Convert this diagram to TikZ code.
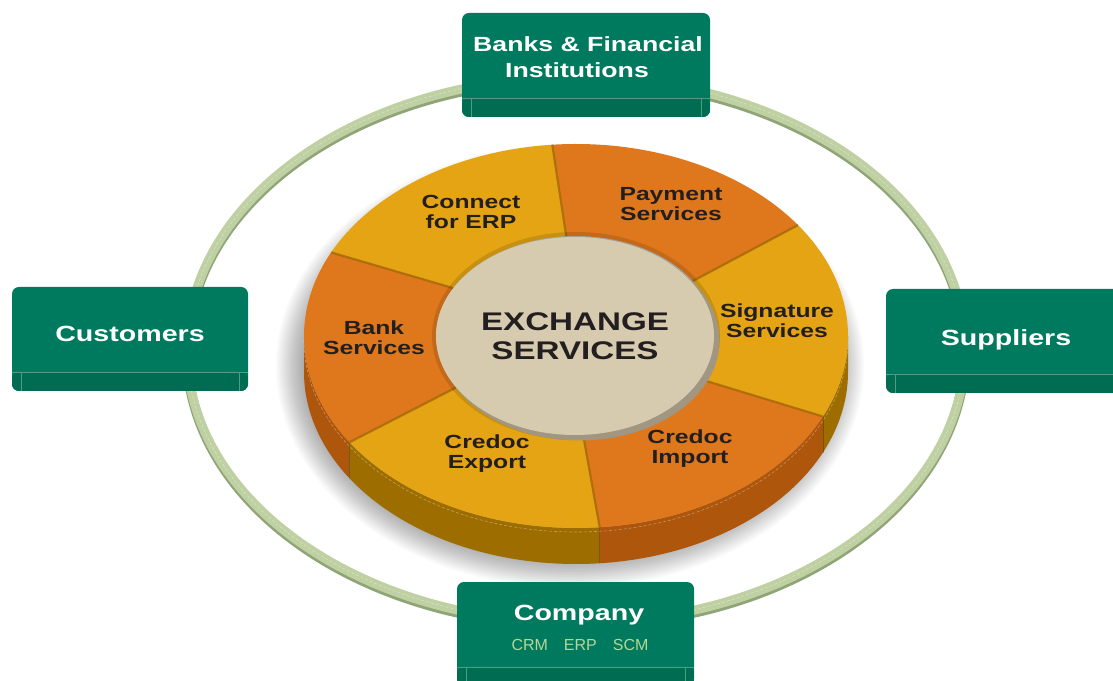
\documentclass[tikz,border=0pt]{standalone}
\usepackage{fontspec}
\setmainfont{Liberation Sans}
\newfontfamily\wide[FakeStretch=1.3]{Liberation Sans}
\usetikzlibrary{calc,shapes.geometric}
\definecolor{gface}{HTML}{007A5E}
\definecolor{gband}{HTML}{006C51}
\definecolor{gline}{HTML}{4E9C82}
\definecolor{ringdark}{HTML}{8FA577}
\definecolor{ringmid}{HTML}{BFD0A2}
\definecolor{ringlight}{HTML}{E6EEDA}
\definecolor{ytop}{HTML}{E4A414}
\definecolor{otop}{HTML}{DF781C}
\definecolor{yside}{HTML}{9E6D00}
\definecolor{oside}{HTML}{AD560C}
\definecolor{divcol}{HTML}{A86A08}
\definecolor{beige}{HTML}{D7CBAF}
\definecolor{rim}{HTML}{A09682}
\definecolor{dtext}{HTML}{231F20}
\definecolor{crmgreen}{HTML}{B4D796}
\newcommand\pieseg[5]{%
  \fill[#1] ($(C)+(#2:272pt and 192pt)$) arc[start angle=#2,end angle=#3,x radius=272pt,y radius=192pt]
    -- ($(C)+(#4:140pt and 100pt)$) arc[start angle=#4,end angle=#5,x radius=140pt,y radius=100pt] -- cycle;}
\newcommand\pieside[3]{%
  \fill[#1] ($(C)+(#2:272pt and 192pt)$) arc[start angle=#2,end angle=#3,x radius=272pt,y radius=192pt]
    -- ++(0,-36) arc[start angle=#3,end angle=#2,x radius=272pt,y radius=192pt] -- cycle;}
\newcommand\piediv[2]{%
  \draw[divider] ($(C)+(#1:272pt and 192pt)$) -- ($(C)+(#2:140pt and 100pt)$);}
\newcommand\sidediv[1]{%
  \draw[sdivider] ($(C)+(#1:272pt and 192pt)$) -- ++(0,-36);}
\tikzset{
  gbox/.style={rectangle, rounded corners=7pt, fill=gface, inner sep=0pt,
    path picture={
      \fill[gband] ([yshift=19pt]path picture bounding box.south west) rectangle (path picture bounding box.south east);
      \draw[gline, line width=0.8pt] ([yshift=19pt]path picture bounding box.south west) -- ([yshift=19pt]path picture bounding box.south east);
      \draw[gline, line width=0.5pt] ([xshift=9pt,yshift=19pt]path picture bounding box.south west) -- ([xshift=9pt]path picture bounding box.south west);
      \draw[gline, line width=0.5pt] ([xshift=-9pt,yshift=19pt]path picture bounding box.south east) -- ([xshift=-9pt]path picture bounding box.south east);
    }},
  btext/.style={text=white, font=\wide\bfseries\fontsize{22}{26}\selectfont, inner sep=0pt},
  btextml/.style={btext, align=center},
  stext/.style={text=dtext, font=\wide\bfseries\fontsize{19}{20}\selectfont, align=center, inner sep=0pt},
  divider/.style={divcol, line width=2.2pt, opacity=0.85},
  sdivider/.style={black, line width=0.8pt, opacity=0.25},
}
\begin{document}
\begin{tikzpicture}[x=1pt,y=1pt]
\useasboundingbox (0,0) rectangle (1113,680);
\clip (0,0) rectangle (1113,680);
\fill[white] (0,0) rectangle (1113,680);
% ring (flat band with a darker lower edge)
\draw[ringdark, line width=10pt] (576,327.5) ellipse[x radius=389pt, y radius=273pt];
\draw[ringmid, line width=9pt] (576,330) ellipse[x radius=389pt, y radius=273pt];
\draw[ringlight, opacity=0.6, line width=0.6pt, dash pattern=on 3pt off 2pt] (576,330.5) ellipse[x radius=389pt, y radius=273pt];
% shadow of the pie
\foreach \i in {1,...,20}
  \fill[black, opacity=0.018] (570,314) ellipse[x radius={262+1.6*\i}, y radius={190+1.6*\i}];
\coordinate (C) at (576,344);
% sides
\pieside{oside}{180}{213.6}
\pieside{yside}{213.6}{275}
\pieside{oside}{275}{335.2}
\pieside{yside}{335.2}{360}
\sidediv{213.6}
\sidediv{275}
\sidediv{335.2}
\draw[white, opacity=0.35, line width=0.6pt, dash pattern=on 3pt off 2pt]
  ($(C)+(0,-4)+(180:272pt and 192pt)$) arc[start angle=180,end angle=360,x radius=272pt,y radius=192pt];
% top faces
\pieseg{ytop}{335.2}{395.3}{393.4}{334.1}
\pieseg{otop}{35.3}{95}{94}{33.4}
\pieseg{ytop}{95}{154.2}{151.4}{94}
\pieseg{otop}{154.2}{213.6}{211}{151.4}
\pieseg{ytop}{213.6}{275}{273}{211}
\pieseg{otop}{275}{335.2}{334.1}{273}
\piediv{35.3}{33.4}
\piediv{95}{94}
\piediv{154.2}{151.4}
\piediv{213.6}{211}
\piediv{275}{273}
\piediv{335.2}{334.1}
% hub
\draw[black, opacity=0.12, line width=4pt] (C) ellipse[x radius=142pt, y radius=102pt];
\fill[rim] (579.5,339.5) ellipse[x radius=140pt, y radius=100pt];
\node[ellipse, fill=beige, minimum width=278pt, minimum height=198pt, inner sep=0pt,
      text=dtext, font=\wide\bfseries\fontsize{25.5}{28.5}\selectfont, align=center] (hub) at (575,344) {EXCHANGE\\SERVICES};
% segment labels
\node[stext] (connect) at (471,468.5) {Connect\\for ERP};
\node[stext] (payment) at (671,476) {Payment\\Services};
\node[stext] (signature) at (777,359.5) {Signature\\Services};
\node[stext] (bank) at (374,342) {Bank\\Services};
\node[stext] (export) at (487,226) {Credoc\\Export};
\node[stext] (import) at (690,231.5) {Credoc\\Import};
% boxes
\node[gbox, minimum width=248pt, minimum height=104pt] (banks) at (586,615) {};
\node[btextml, font=\wide\bfseries\fontsize{20.5}{26}\selectfont] (banksT) at (588,623) {Banks \& Financial\\Institutions\hspace*{22pt}};
\node[gbox, minimum width=236pt, minimum height=104pt] (cust) at (130,341) {};
\node[btext, anchor=base] (custT) at (130,338) {Customers};
\node[gbox, minimum width=254pt, minimum height=104pt] (supp) at (1013,339) {};
\node[btext, anchor=base] (suppT) at (1006,334) {Suppliers};
\node[gbox, minimum width=237pt, minimum height=104pt] (comp) at (575.5,46) {};
\node[btext, anchor=base] (compT) at (579,60) {Company};
\node[anchor=base, text=crmgreen, font=\fontsize{16}{18}\selectfont, inner sep=0pt] (crm) at (580,30) {CRM\hspace{16pt}ERP\hspace{16pt}SCM};
\end{tikzpicture}
\end{document}
